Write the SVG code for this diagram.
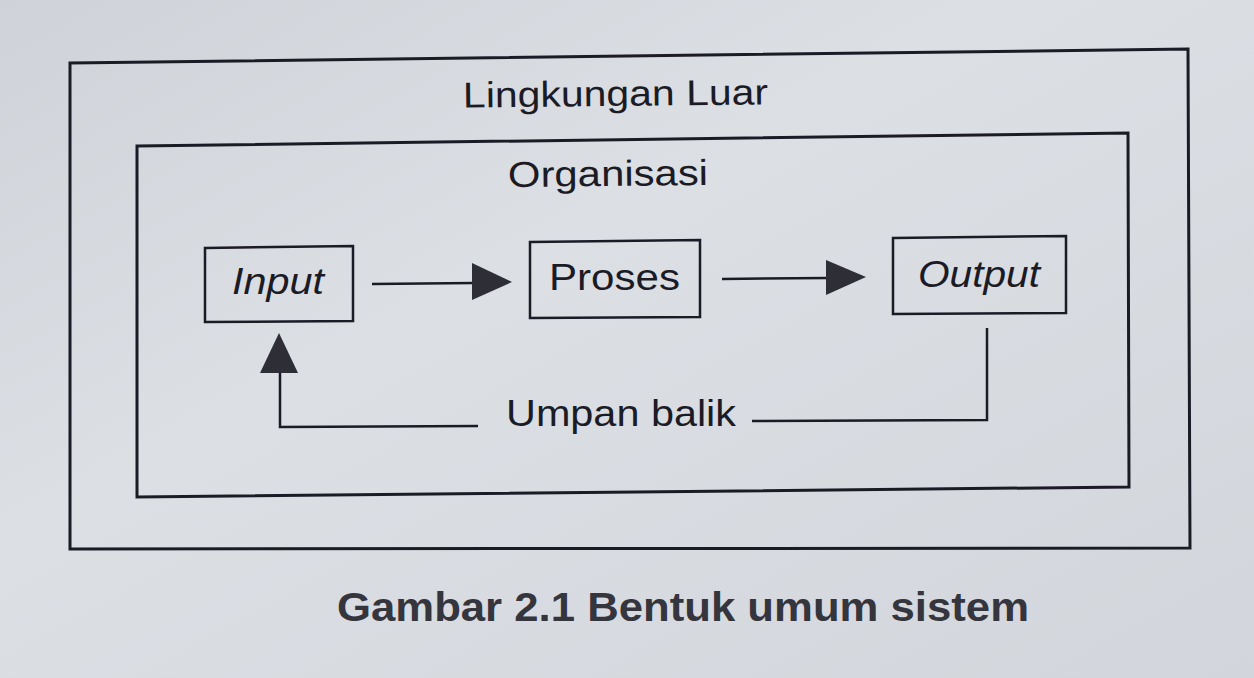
<svg xmlns="http://www.w3.org/2000/svg" width="1254" height="678" viewBox="0 0 1254 678">
<defs>
<linearGradient id="bg" x1="0" y1="0" x2="1" y2="1">
<stop offset="0" stop-color="#cfd2d8"/>
<stop offset="0.4" stop-color="#dcdfe4"/>
<stop offset="1" stop-color="#d2d5db"/>
</linearGradient>
<style>
.frame{fill:none;stroke:#1b1b26;stroke-width:3}
.box{fill:none;stroke:#1b1b26;stroke-width:2.5}
.ln{fill:none;stroke:#1b1b26;stroke-width:2.5}
.lbl{font-family:"Liberation Sans",Arial,sans-serif;fill:#1b1b26;font-size:36px}
.it{font-style:italic}
.cap{font-family:"Liberation Sans",Arial,sans-serif;font-weight:bold;fill:#35353d;font-size:40px}
.head{fill:#2e2e36}
</style>
</defs>
<rect width="1254" height="678" fill="url(#bg)"/>
<g id="lingkungan">
<path class="frame" d="M70,63 L1188,49 L1190,548 L70,549 Z"/>
<text class="lbl" x="463" y="106" textLength="305" lengthAdjust="spacingAndGlyphs" transform="rotate(-0.6 615 95)">Lingkungan  Luar</text>
</g>
<g id="organisasi">
<path class="frame" d="M137,146 L1128,133 L1129,487 L137,497 Z"/>
<text class="lbl" x="508" y="186" textLength="200" lengthAdjust="spacingAndGlyphs" transform="rotate(-0.6 608 175)">Organisasi</text>
</g>
<g id="input">
<path class="box" d="M205,248 L353,246 L353,321 L205,322 Z"/>
<text class="lbl it" x="232" y="294" textLength="92" lengthAdjust="spacingAndGlyphs">Input</text>
</g>
<g id="proses">
<path class="box" d="M530,242 L700,240 L700,317 L530,318 Z"/>
<text class="lbl" x="549" y="290" textLength="131" lengthAdjust="spacingAndGlyphs">Proses</text>
</g>
<g id="output">
<path class="box" d="M893,238 L1066,236 L1066,313 L893,314 Z"/>
<text class="lbl it" x="918" y="287" textLength="122" lengthAdjust="spacingAndGlyphs">Output</text>
</g>
<g id="feedback-label">
<text class="lbl" x="506" y="426" textLength="230" lengthAdjust="spacingAndGlyphs">Umpan  balik</text>
</g>
<g id="connectors">
<line class="ln" x1="372" y1="284" x2="474" y2="283"/>
<path class="head" d="M472,263 L512,282 L472,300 Z"/>
<line class="ln" x1="722" y1="279" x2="828" y2="278"/>
<path class="head" d="M826,260 L866,277 L826,295 Z"/>
<polyline class="ln" points="987,328 987,420 752,421"/>
<polyline class="ln" points="478,426 280,427 280,370"/>
<path class="head" d="M260,373 L279,333 L298,373 Z"/>
</g>
<g id="caption">
<text class="cap" x="337" y="621" textLength="692" lengthAdjust="spacingAndGlyphs">Gambar 2.1 Bentuk umum sistem</text>
</g>
</svg>
